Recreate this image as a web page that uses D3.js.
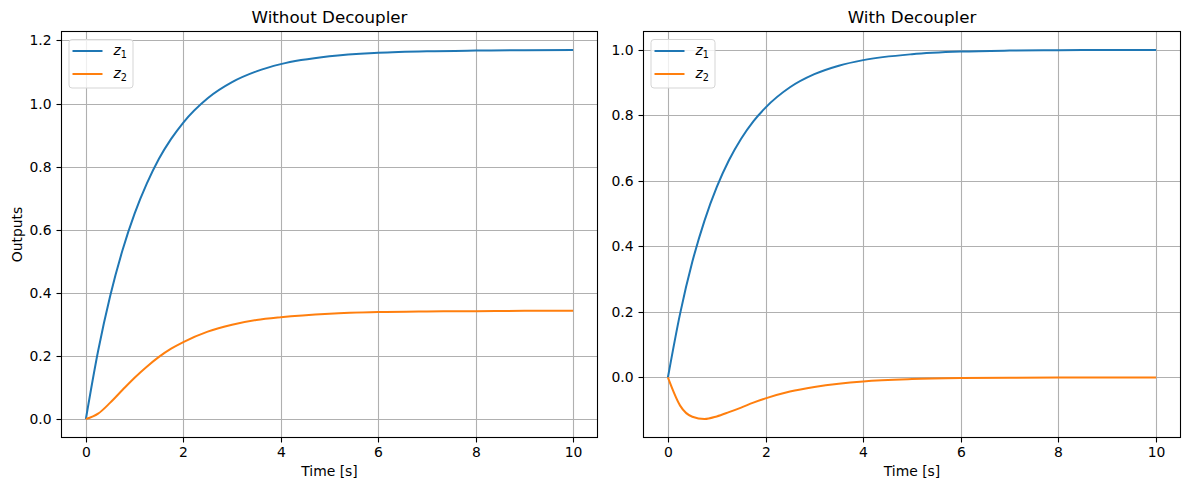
<!DOCTYPE html>
<html>
<head>
<meta charset="utf-8">
<script src="https://cdn.jsdelivr.net/npm/d3@7/dist/d3.min.js"></script>
<style>
body { margin: 0; background: #fff; }
text { font-family: "DejaVu Sans", sans-serif; fill: #000; }
.grid line { stroke: #b0b0b0; stroke-width: 1.1; }
.axis path, .axis line { stroke: #000; stroke-width: 1.1; }
.axis text { font-size: 13.9px; }
</style>
</head>
<body>
<div id="chart"></div>
<script>
// time samples (s)
const time = [0, 0.25, 0.5, 0.75, 1, 1.25, 1.5, 1.75, 2, 2.5, 3, 3.5, 4, 5, 6, 7, 8, 9, 10];

// Without decoupler
const z1Without = [0, 0.215, 0.391, 0.534, 0.651, 0.746, 0.825, 0.888, 0.940, 1.017, 1.068, 1.102, 1.125, 1.150, 1.161, 1.166, 1.168, 1.169, 1.170];
const z2Without = [0, 0.017, 0.052, 0.092, 0.131, 0.166, 0.197, 0.223, 0.244, 0.277, 0.299, 0.314, 0.323, 0.334, 0.339, 0.341, 0.342, 0.343, 0.343];

// With decoupler
const z1With = [0, 0.195, 0.353, 0.479, 0.581, 0.663, 0.729, 0.782, 0.824, 0.886, 0.926, 0.952, 0.969, 0.987, 0.995, 0.998, 0.999, 1.000, 1.000];
const z2With = [0, -0.086, -0.120, -0.127, -0.119, -0.106, -0.092, -0.077, -0.064, -0.043, -0.029, -0.019, -0.012, -0.005, -0.002, -0.001, -0.0004, -0.0002, -0.0001];

const xTicks = [0, 2, 4, 6, 8, 10];
const yTicksWithout = [0, 0.2, 0.4, 0.6, 0.8, 1.0, 1.2];
const yTicksWith = [0, 0.2, 0.4, 0.6, 0.8, 1.0];
const seriesSubs = ["1", "2"];
const seriesColors = ["#1f77b4", "#ff7f0e"];

const width = 1189;
const height = 490;
const tickFormat = d3.format('.1f');

const svg = d3.select('#chart')
    .append('svg')
    .attr('width', width)
    .attr('height', height);

// 5% padding like matplotlib autoscale
function padded(vals) {
    const lo = d3.min(vals), hi = d3.max(vals);
    const m = (hi - lo) * 0.05;
    return [lo - m, hi + m];
}

// snap 1px lines onto the pixel grid
const snap = v => Math.round(v) + 0.5;

function drawPanel(opts) {
    const g = svg.append('g');
    const x = d3.scaleLinear().domain(padded(time)).range([opts.left, opts.right]);
    const y = d3.scaleLinear().domain(padded(opts.series.flat())).range([opts.bottom, opts.top]);

    // grid
    const grid = g.append('g').attr('class', 'grid');
    grid.selectAll('.gx').data(xTicks)
        .enter().append('line')
        .attr('x1', d => snap(x(d))).attr('x2', d => snap(x(d)))
        .attr('y1', opts.top).attr('y2', opts.bottom);
    grid.selectAll('.gy').data(opts.yTicks)
        .enter().append('line')
        .attr('y1', d => snap(y(d))).attr('y2', d => snap(y(d)))
        .attr('x1', opts.left).attr('x2', opts.right);

    // lines
    const line = d3.line()
        .x((d, i) => x(time[i]))
        .y(d => y(d))
        .curve(d3.curveMonotoneX);

    g.selectAll('.series')
        .data(opts.series)
        .enter().append('path')
        .attr('class', 'series')
        .attr('fill', 'none')
        .attr('stroke', (d, i) => seriesColors[i])
        .attr('stroke-width', 2)
        .attr('d', line);

    // axes
    const xAxis = g.append('g')
        .attr('class', 'axis')
        .attr('transform', 'translate(0,' + opts.bottom + ')')
        .call(d3.axisBottom(x).tickValues(xTicks).tickSize(5).tickPadding(4.6).tickSizeOuter(0));
    xAxis.selectAll('.tick').attr('transform', d => 'translate(' + snap(x(d)) + ',0)');
    const yAxis = g.append('g')
        .attr('class', 'axis')
        .attr('transform', 'translate(' + opts.left + ',0)')
        .call(d3.axisLeft(y).tickValues(opts.yTicks).tickFormat(tickFormat).tickSize(5).tickPadding(5).tickSizeOuter(0));
    yAxis.selectAll('.tick').attr('transform', d => 'translate(0,' + snap(y(d)) + ')');
    g.selectAll('.axis .domain').remove();

    // frame
    g.append('rect')
        .attr('x', opts.left).attr('y', opts.top)
        .attr('width', opts.right - opts.left)
        .attr('height', opts.bottom - opts.top)
        .attr('fill', 'none')
        .attr('stroke', '#000')
        .attr('stroke-width', 1.1);

    // title + labels
    g.append('text')
        .attr('x', (opts.left + opts.right) / 2)
        .attr('y', opts.top - 8.3)
        .attr('text-anchor', 'middle')
        .style('font-size', '16.7px')
        .text(opts.title);
    g.append('text')
        .attr('x', (opts.left + opts.right) / 2)
        .attr('y', 476)
        .attr('text-anchor', 'middle')
        .style('font-size', '13.9px')
        .text('Time [s]');
    if (opts.ylabel) {
        g.append('text')
            .attr('transform', 'translate(22,' + (opts.top + opts.bottom) / 2 + ') rotate(-90)')
            .attr('text-anchor', 'middle')
            .style('font-size', '13.9px')
            .text(opts.ylabel);
    }

    // legend
    const lg = g.append('g').attr('transform', 'translate(' + (opts.left + 7) + ',' + (opts.top + 7.5) + ')');
    lg.append('rect')
        .attr('x', 0.5).attr('y', 0.5)
        .attr('width', 64).attr('height', 48.5)
        .attr('rx', 3)
        .attr('fill', '#fff').attr('fill-opacity', 0.8)
        .attr('stroke', '#d5d5d5');
    const items = lg.selectAll('.item')
        .data(seriesSubs)
        .enter().append('g')
        .attr('class', 'item')
        .attr('transform', (d, i) => 'translate(0,' + (12 + i * 23) + ')');
    items.append('line')
        .attr('x1', 4).attr('x2', 34)
        .attr('stroke', (d, i) => seriesColors[i])
        .attr('stroke-width', 2);
    const lbl = items.append('text')
        .attr('x', 45).attr('y', 4)
        .style('font-size', '13.9px');
    lbl.append('tspan').style('font-style', 'italic').text('z');
    lbl.append('tspan').attr('dy', 3).style('font-size', '9.7px').text(d => d);
}

drawPanel({
    left: 61.5, right: 597.5, top: 31.5, bottom: 437.5,
    series: [z1Without, z2Without],
    yTicks: yTicksWithout,
    title: 'Without Decoupler',
    ylabel: 'Outputs'
});

drawPanel({
    left: 643.5, right: 1180.5, top: 31.5, bottom: 437.5,
    series: [z1With, z2With],
    yTicks: yTicksWith,
    title: 'With Decoupler'
});
</script>
</body>
</html>
